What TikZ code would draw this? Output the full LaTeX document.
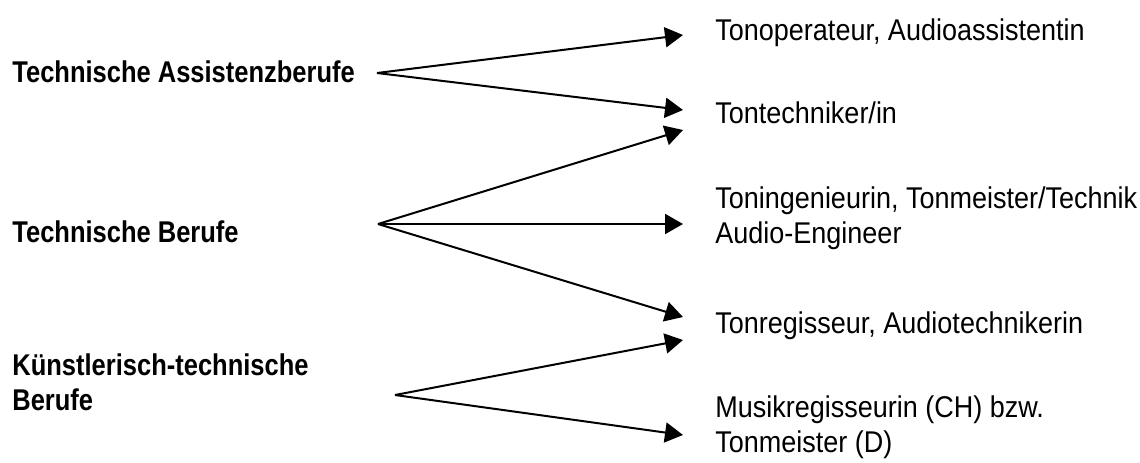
\documentclass[tikz,border=0pt]{standalone}
\usepackage{fontspec}
\setmainfont{Liberation Sans}[FakeStretch=0.9, BoldFeatures={FakeStretch=0.85}]
\usetikzlibrary{arrows.meta}

\tikzset{
    beruf/.style={anchor=base west, inner sep=0pt, align=left,
        font=\fontsize{15pt}{17.5pt}\selectfont},
    gruppe/.style={beruf, font=\fontsize{15pt}{17.5pt}\selectfont\bfseries},
    pfeil/.style={line width=1pt, -{Triangle[length=9pt,width=10pt]}}
}

\begin{document}
\begin{tikzpicture}[x=0.5pt, y=-0.5pt]

        \useasboundingbox (0,0) rectangle (1140,462);

        % Groups on the left (base = last line)
        \node[gruppe] (assist) at (12, 82) {Technische Assistenzberufe};
        \node[gruppe] (technik) at (12,242) {Technische Berufe};
        \node[gruppe] (kunst) at (12,410) {Künstlerisch-technische\\Berufe};

        % Professions on the right
        \node[beruf] (operateur) at (715, 40) {Tonoperateur, Audioassistentin};
        \node[beruf] (techniker) at (715,123) {Tontechniker/in};
        \node[beruf] (ingenieur) at (715,243) {Toningenieurin, Tonmeister/Technik\\Audio-Engineer};
        \node[beruf] (regisseur) at (715,333) {Tonregisseur, Audiotechnikerin};
        \node[beruf] (musik) at (715,452) {Musikregisseurin (CH) bzw.\\Tonmeister (D)};

        % Fan origins
        \coordinate (fanA) at (377, 73);
        \coordinate (fanB) at (378,224);
        \coordinate (fanC) at (395,395);

        % Arrow tips
        \coordinate (tipA1) at (683, 35);
        \coordinate (tipA2) at (683,110);
        \coordinate (tipB1) at (683,130);
        \coordinate (tipB2) at (683,224);
        \coordinate (tipB3) at (683,317);
        \coordinate (tipC1) at (683,340);
        \coordinate (tipC2) at (683,435);

        % Arrows
        \draw[pfeil] (fanA) -- (tipA1);
        \draw[pfeil] (fanA) -- (tipA2);
        \draw[pfeil] (fanB) -- (tipB1);
        \draw[pfeil] (fanB) -- (tipB2);
        \draw[pfeil] (fanB) -- (tipB3);
        \draw[pfeil] (fanC) -- (tipC1);
        \draw[pfeil] (fanC) -- (tipC2);

    \end{tikzpicture}
\end{document}
